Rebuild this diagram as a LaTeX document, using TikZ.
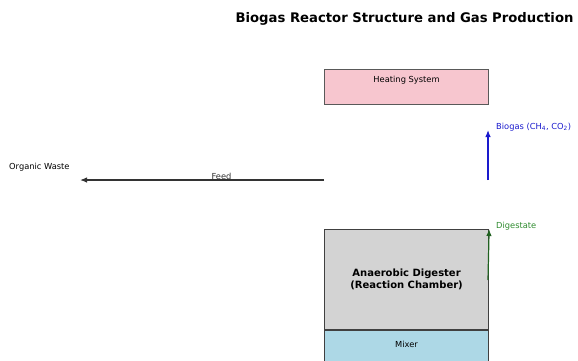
\documentclass[tikz,border=0pt]{standalone}
\usepackage{fontspec}
\setmainfont{DejaVu Sans}
\usetikzlibrary{positioning,calc,arrows.meta}

\definecolor{heatpink}{HTML}{F7C6CF}
\definecolor{chamber}{HTML}{D3D3D3}
\definecolor{mixblue}{HTML}{ADD8E6}
\definecolor{gasblue}{HTML}{1A1ACD}
\definecolor{digreen}{HTML}{2E8B2E}

\begin{document}
\begin{tikzpicture}[x=1pt,y=-1pt,
    box/.style={draw=black!75, line width=1.1pt, minimum width=164pt, inner sep=0pt, anchor=north west},
    lbl/.style={font=\fontsize{8.3}{10}\selectfont, inner sep=1pt},
    flow/.style={-{Latex[length=7pt,width=5.5pt]}, line width=1.2pt}]
    \useasboundingbox (0,0) rectangle (578,360);
    \node[font=\fontsize{13.2}{15}\selectfont\bfseries, anchor=east] (title) at (577,19) {Biogas Reactor Structure and Gas Production};
    % reactor parts
    \node[box, fill=heatpink, draw=black!65, minimum height=35pt] (heater) at (324,69) {};
    \node[lbl] (heatlbl) at ($(heater.north)+(0,11)$) {Heating System};
    \node[box, fill=chamber, minimum height=100pt, align=center, font=\fontsize{10}{11.5}\selectfont\bfseries] (digester) at (324,229) {Anaerobic Digester\\(Reaction Chamber)};
    \node[box, fill=mixblue, minimum height=33pt, lbl, inner sep=0pt, text depth=5pt] (mixer) at (digester.south west) {Mixer};
    % flows
    \node[lbl, anchor=west] (waste) at (8,167) {Organic Waste};
    \coordinate (feedin) at (324,180);
    \coordinate (feedend) at (80,180);
    \draw[flow, black!80] (feedin) -- (feedend) node[pos=0.42, above=-1.5pt, lbl] {Feed};
    \coordinate (gasout) at (488,180);
    \coordinate (gastop) at (488,130);
    \draw[flow, gasblue] (gasout) -- (gastop);
    \node[lbl, anchor=west, text=gasblue] (biogas) at (495,127) {Biogas (CH\textsubscript{4}, CO\textsubscript{2})};
    \coordinate (digbase) at (488,280);
    \draw[flow, digreen!70!black] (digbase) -- (digester.north east);
    \node[lbl, anchor=west, text=digreen] (digestate) at (495,226) {Digestate};
\end{tikzpicture}
\end{document}
